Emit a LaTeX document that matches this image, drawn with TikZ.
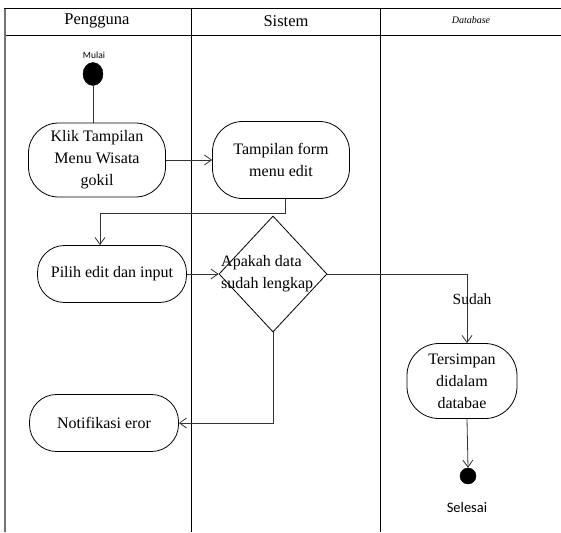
\documentclass[tikz,border=0pt]{standalone}
\usepackage{fontspec}
\setmainfont{Liberation Serif}
\newfontfamily\calibrifont{Carlito}
\usetikzlibrary{arrows.meta,shapes.geometric}
\begin{document}
\begin{tikzpicture}[x=1pt,y=-1pt,
  lane/.style={line width=1pt,black},
  act/.style={draw,line width=0.8pt,rounded corners=27pt,inner sep=0pt,align=center,
    font=\fontsize{16}{22}\selectfont},
  flow/.style={line width=0.8pt,draw=black!80,-{Straight Barb[length=7pt,width=10pt]}},
  plain/.style={line width=0.8pt,draw=black!80},
  dot/.style={fill=black,draw=black,inner sep=0pt},
  hdr/.style={font=\fontsize{16.5}{18}\selectfont},
  small/.style={font=\calibrifont\fontsize{9.5}{11}\selectfont}
]
\useasboundingbox (0,0) rectangle (561,532);

% swimlane frame
\draw[lane] (4,9) -- (561,9);
\draw[lane] (4,36) -- (561,36);
\draw[line width=1.6pt,black!55] (5,9) -- (5,532);
\draw[lane] (191,9) -- (191,532);
\draw[lane] (380,9) -- (380,532);

\node[hdr] (hPengguna) at (97,21) {Pengguna};
\node[hdr] (hSistem) at (286,21) {Sistem};
\node[font=\itshape\fontsize{10}{12}\selectfont] (hDatabase) at (471,20) {Database};

% start
\node[dot,ellipse,minimum width=20pt,minimum height=23pt] (start) at (93,74) {};
\node[small] (mulai) at (94,55) {Mulai};

% activities
\node[act,minimum width=137pt,minimum height=74pt,rounded corners=30pt] (klik) at (97,160)
  {Klik Tampilan\\Menu Wisata\\gokil};
\node[act,minimum width=137pt,minimum height=77pt,rounded corners=30pt] (form) at (281,160)
  {Tampilan form\\menu edit};
\node[act,minimum width=149pt,minimum height=57pt] (pilih) at (112,274)
  {Pilih edit dan input};
\node[draw,diamond,line width=0.8pt,inner sep=0pt,minimum width=108pt,minimum height=116pt] (cek) at (273,274) {};
\node[anchor=west,align=left,inner sep=0pt,font=\fontsize{16}{22}\selectfont] (cektxt) at (221,274)
  {Apakah data\\sudah lengkap};
\node[act,minimum width=149pt,minimum height=57pt] (notif) at (104,423)
  {Notifikasi eror};
\node[act,minimum width=110pt,minimum height=75pt,rounded corners=32pt] (simpan) at (462,381)
  {Tersimpan\\didalam\\databae};

% end
\node[dot,circle,minimum size=16pt] (end) at (468,476) {};
\node[font=\calibrifont\fontsize{14.5}{16}\selectfont] (selesai) at (467,508) {Selesai};

% connectors
\draw[plain] (start) -- (start |- klik.north);
\draw[flow] (klik.east) -- (form.west);
\coordinate (bend) at (285,213);
\draw[flow] (form.south -| bend) -- (bend) -| ([xshift=-12pt]pilih.north);
\draw[flow] (pilih.east) -- (cek.west);
\draw[flow] (cek.east) -| ([xshift=5pt]simpan.north);
\node[font=\fontsize{15.5}{18}\selectfont] (sudah) at (472,299) {Sudah};
\draw[flow] (cek.south) |- (notif.east);
\draw[flow] ([xshift=5pt]simpan.south) -- (end.north);
\end{tikzpicture}
\end{document}
